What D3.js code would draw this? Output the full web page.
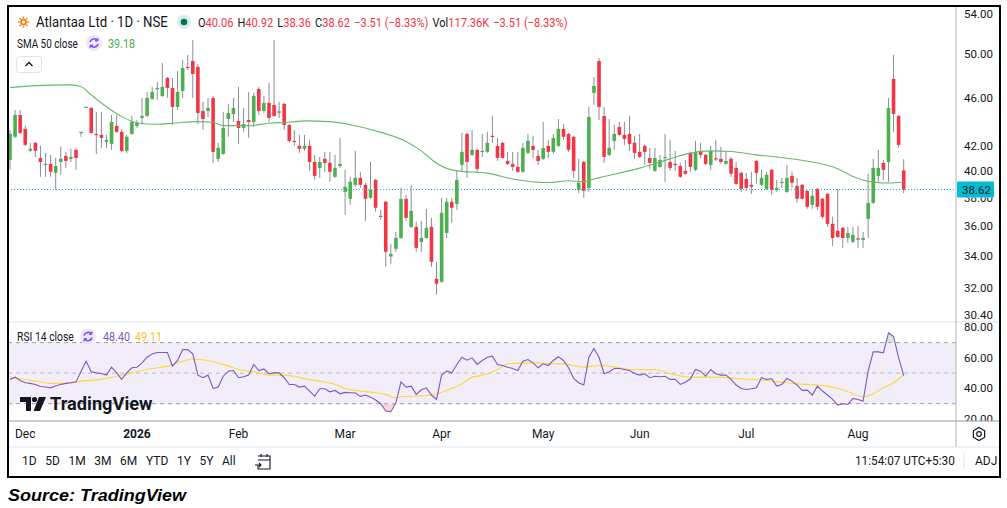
<!DOCTYPE html>
<html><head><meta charset="utf-8">
<script src="https://cdn.jsdelivr.net/npm/d3@7"></script>
<style>
body{margin:0;background:#fff;}
svg{display:block;font-family:Roboto,"Noto Sans",sans-serif;}
</style></head>
<body><svg id="c" width="1007" height="508"></svg>
<script>
// ---------- DATA ----------
const monthLabels = ["Dec","2026","Feb","Mar","Apr","May","Jun","Jul","Aug"];
const monthIdx    = [3, 25, 45, 66, 85, 105, 124, 145, 167];

const opens = [40.87,42.71,44.53,43.36,41.58,42.22,41.02,40.52,40.56,39.87,40.71,41.18,40.95,41.66,43.10,45.20,45.13,42.95,42.87,42.30,
42.14,43.61,43.12,41.58,42.95,43.61,44.28,44.45,45.92,46.84,46.18,47.79,46.89,45.22,46.62,48.81,49.36,48.81,44.87,44.87,
46.00,40.95,41.34,44.19,44.62,44.03,43.44,44.11,43.94,46.80,44.87,45.57,45.39,44.83,45.48,43.69,42.38,41.98,41.74,41.98,
40.71,40.25,40.95,40.64,39.57,40.40,38.45,37.94,38.97,39.49,38.97,38.01,39.34,36.70,37.73,33.98,34.49,35.21,37.94,35.96,
35.96,34.95,35.21,35.96,32.56,32.38,35.55,37.73,37.58,40.48,42.95,41.26,41.66,41.50,41.50,42.79,41.98,42.22,40.79,40.56,
40.33,39.95,41.42,41.98,41.18,40.95,41.98,41.50,41.98,43.36,42.95,42.71,38.59,40.71,38.74,46.45,49.36,44.45,41.26,42.38,
43.52,42.87,42.95,42.22,41.50,41.98,41.02,40.02,40.33,41.07,40.71,40.56,40.40,40.02,41.42,40.10,41.58,41.26,40.48,40.99,
40.95,40.56,40.95,40.25,39.87,39.41,38.97,40.79,38.97,38.67,40.10,38.59,39.12,38.45,39.64,38.89,38.97,38.52,37.51,38.67,
37.94,38.30,36.17,35.69,35.89,35.21,34.95,35.18,35.08,36.52,37.65,39.64,40.64,40.71,47.70,44.45,40.06];
const highs = [43.28,44.96,44.96,43.61,42.22,42.30,41.98,41.42,41.26,41.02,41.90,41.50,41.74,41.82,43.12,45.25,45.22,44.79,44.79,42.87,
44.53,44.53,43.36,42.87,44.45,44.11,46.00,46.53,46.98,47.43,49.18,47.88,47.79,48.44,49.46,49.94,51.39,49.08,45.65,46.00,
46.18,42.22,44.79,45.48,46.00,46.98,45.13,46.53,46.45,46.98,46.18,47.34,51.39,45.65,45.57,43.77,43.28,42.87,42.87,42.46,
41.26,41.10,41.50,41.50,41.26,42.62,40.10,39.57,41.58,39.95,39.12,40.71,39.41,37.15,37.80,34.82,35.62,38.74,38.23,38.97,
36.31,36.38,37.22,36.59,33.64,38.01,38.01,38.01,40.02,43.03,43.03,43.28,41.74,42.95,43.12,44.45,42.62,42.30,41.50,41.50,
41.50,42.22,42.95,42.79,41.66,43.94,42.46,42.95,44.19,43.77,43.03,42.79,40.95,40.79,45.22,47.88,49.65,45.22,44.19,43.69,
43.94,43.94,44.45,42.79,42.95,42.06,41.82,41.82,41.26,42.95,42.46,41.58,40.64,40.87,41.50,42.38,42.22,41.34,41.98,42.46,
41.90,41.50,41.10,40.71,39.95,39.87,39.95,40.87,40.10,39.95,40.17,39.34,39.49,40.48,39.95,39.49,39.04,38.59,38.67,38.74,
38.01,38.37,36.66,38.67,35.96,35.96,35.96,36.03,35.62,39.80,40.95,41.66,40.87,46.00,49.94,44.53,40.92];
const lows = [40.10,42.62,42.95,41.98,41.50,41.10,39.57,39.57,39.57,38.59,39.72,40.25,40.71,40.10,42.71,45.15,42.95,41.34,41.82,41.82,
41.66,43.03,41.50,41.42,42.87,43.44,43.69,44.36,45.83,45.83,46.09,46.00,43.69,44.96,46.00,48.53,46.00,43.77,43.28,44.36,
40.64,40.71,41.26,42.71,43.94,42.14,43.12,42.62,43.52,44.53,44.70,43.94,44.36,44.28,43.28,42.22,41.98,41.42,41.58,40.02,
39.34,39.49,39.95,39.19,39.49,40.25,36.80,37.51,38.82,38.74,36.38,37.94,37.02,36.45,33.32,33.51,34.29,35.15,36.38,35.89,
34.29,34.29,35.15,33.32,31.59,32.32,35.21,36.24,37.15,39.95,39.49,41.18,39.87,41.10,41.42,42.22,40.79,40.95,40.48,40.02,
39.87,39.87,41.34,41.02,40.48,40.87,41.02,41.34,41.90,42.46,41.50,39.49,38.37,38.01,38.45,45.39,44.11,40.64,41.18,41.66,
42.79,42.06,41.58,40.95,41.02,40.48,40.17,39.95,40.25,39.19,40.02,40.02,39.49,39.72,39.95,40.02,41.02,40.48,40.10,40.79,
40.56,40.48,39.57,38.97,38.45,38.52,38.30,39.04,38.89,38.59,38.23,38.45,38.74,38.37,38.74,37.65,37.87,37.22,37.22,37.15,
36.52,35.96,34.68,35.21,34.55,34.88,34.88,34.55,34.55,35.21,37.58,39.19,39.34,39.19,43.12,41.82,38.36];
const closes = [42.95,44.53,43.03,42.06,41.74,41.58,40.71,40.56,39.95,40.40,40.95,40.79,41.10,41.02,43.12,45.22,43.03,42.87,42.62,42.46,
43.94,43.12,41.58,42.71,43.94,43.86,44.45,46.00,46.53,46.89,46.98,46.89,45.22,46.53,48.71,48.71,48.16,44.70,44.19,45.13,
41.50,41.82,43.44,44.70,45.13,43.44,43.77,43.94,46.18,44.87,45.57,44.28,44.45,44.79,43.69,42.38,42.30,41.74,41.98,40.71,
39.64,40.71,40.64,39.95,40.25,40.56,38.82,39.19,39.49,38.97,37.94,38.59,37.30,36.73,34.29,34.16,35.21,37.94,36.59,37.08,
34.55,35.21,35.89,33.64,32.26,36.94,37.73,37.30,39.34,41.50,40.71,41.66,40.17,41.58,42.22,42.71,41.02,41.02,40.56,40.33,
39.95,41.82,42.38,41.66,40.79,41.82,41.50,42.62,43.36,42.71,41.66,40.02,39.12,38.52,44.36,47.07,45.22,41.10,41.82,42.95,
42.87,42.54,42.14,41.42,41.10,41.50,40.64,41.02,40.87,41.10,40.25,40.48,39.57,39.80,40.33,41.50,41.26,40.56,41.58,40.95,
40.71,40.79,39.80,39.04,38.67,38.74,38.82,39.87,39.49,39.72,38.59,38.74,39.19,39.49,39.12,37.94,37.94,37.37,38.16,37.37,
36.66,36.17,35.21,35.28,35.21,35.55,35.42,35.15,35.21,37.65,40.25,40.25,40.10,45.13,44.62,42.06,38.62];

const smaIdx  = [0,5,12,14,16,19,22,25,29,32,37,40,42,47,51,55,58,63,68,72,78,81,84,88,94,99,106,110,113,115,117,124,130,134,138,142,147,153,163,166,170,173,176];
const smaVals = [46.92,47.10,47.16,47.00,46.27,45.24,44.39,43.88,43.75,43.83,43.97,43.92,43.63,43.63,43.83,43.92,44.03,43.97,43.63,43.20,42.33,41.58,40.61,40.02,39.85,39.41,39.14,39.27,39.21,39.41,39.59,40.23,40.95,41.40,41.58,41.53,41.26,41.00,40.18,39.60,39.17,39.10,39.18];

const rsiVals = [45.9,47.4,45.2,43.7,43.3,42.6,41.3,40.9,40.4,41.7,42.6,43.3,43.7,44.3,51.3,57.8,50.9,50.2,49.8,48.7,
53.9,50.2,45.9,50.2,53.5,53.9,56.7,60.4,62.6,63.5,63.5,63.5,54.6,58.3,65.4,65.4,62.6,48.7,47.0,48.7,
40.0,40.9,48.0,51.3,51.7,47.0,47.6,48.7,55.7,51.7,52.8,49.6,50.2,50.2,47.0,42.6,42.6,40.9,41.5,38.3,
35.0,39.8,39.8,37.8,38.7,36.5,37.4,37.2,37.0,34.8,35.7,34.3,32.4,30.0,25.2,24.8,30.7,44.3,40.9,41.5,
36.1,39.1,40.4,35.7,32.8,48.7,51.3,50.2,55.7,60.4,58.5,60.0,55.7,58.3,60.4,61.1,55.7,55.0,53.9,53.0,
51.7,57.8,58.9,56.7,53.5,56.1,55.0,58.3,60.7,58.3,53.5,46.5,43.7,42.2,60.4,66.1,60.4,49.6,50.9,53.0,
53.0,52.4,51.7,49.8,48.7,49.6,47.0,48.0,47.6,48.0,45.9,45.9,42.6,44.1,46.3,52.4,51.3,48.0,52.4,49.6,
48.7,48.7,45.9,42.2,40.0,39.3,39.8,40.4,47.0,45.9,46.3,41.5,42.6,46.5,44.8,42.2,38.7,38.9,35.7,41.5,
38.3,35.7,32.8,29.1,30.0,29.6,33.5,32.8,31.7,51.3,63.9,63.9,63.3,76.3,74.1,60.0,48.4];

const rsiMaIdx  = [0,2,5,8,11,14,18,21,24,28,31,33,36,39,43,45,48,51,53,56,58,61,64,66,69,72,74,76,77,80,83,86,89,91,93,96,98,103,106,109,113,116,119,122,127,130,134,139,144,149,152,155,160,163,165,168,170,172,174,176];
const rsiMaVals = [47.4,46.3,44.8,43.3,43.3,44.8,45.9,48.0,50.2,53.0,54.6,56.7,59.3,58.3,54.6,52.4,50.9,48.7,48.7,48.0,46.3,44.8,42.6,40.0,38.3,37.2,36.1,33.9,34.6,35.0,35.7,38.7,43.0,47.4,48.5,52.4,56.1,56.7,56.3,56.1,53.9,55.0,54.1,52.4,52.4,49.6,47.4,47.4,46.3,45.2,44.1,43.0,42.0,40.0,37.8,34.6,36.5,40.4,43.7,49.11];

const priceTicks = [54, 50, 46, 42, 40, 38, 36, 34, 32, 30.4];
const rsiTicks   = [80, 60, 40, 20];
const rangeButtons = ["1D","5D","1M","3M","6M","YTD","1Y","5Y","All"];
const header = {name:"Atlantaa Ltd · 1D · NSE", O:"40.06", H:"40.92", L:"38.36", C:"38.62", chg:"−3.51 (−8.33%)", vol:"117.36K"};
const smaLast = "39.18", rsiLast = "48.40", rsiMaLast = "49.11", lastPrice = 38.62;

// ---------- LAYOUT ----------
const svg = d3.select("#c");
const frame = {l:8, t:6, r:1000, b:477};
const axisX = 956;
const pTop = 7, pBot = 322, rTop = 322, rBot = 421, tBot = 447;
const UP = "#4caf50", DN = "#f23645", TXT = "#131722";

function fit(sel, w){
  const bb = sel.node().getBBox();
  const k = w / bb.width, x0 = bb.x;
  sel.attr("transform", `translate(${x0},0) scale(${k},1) translate(${-x0},0)`);
  return sel;
}

const x  = d3.scaleLinear().domain([0, closes.length - 1]).range([10, 903.7]);
const y  = d3.scaleLog().domain([32, 54]).range([288, 14]);
const yr = d3.scaleLinear().domain([20, 80]).range([419, 327.3]);

const defs = svg.append("defs");
defs.append("clipPath").attr("id","cp").append("rect").attr("x",frame.l+1).attr("y",pTop).attr("width",axisX-frame.l-1).attr("height",pBot-pTop);
defs.append("clipPath").attr("id","cr").append("rect").attr("x",frame.l+1).attr("y",rTop).attr("width",axisX-frame.l-1).attr("height",rBot-rTop);
defs.append("clipPath").attr("id","cra").append("rect").attr("x",axisX).attr("y",rTop).attr("width",frame.r-axisX).attr("height",rBot-rTop);
defs.append("clipPath").attr("id","cob").append("rect").attr("x",0).attr("y",0).attr("width",1007).attr("height",yr(70));
defs.append("clipPath").attr("id","cos").append("rect").attr("x",0).attr("y",yr(30)).attr("width",1007).attr("height",200);
defs.append("clipPath").attr("id","c38").append("rect").attr("x",axisX).attr("y",y(lastPrice)+8).attr("width",50).attr("height",30);

// ---------- PRICE PANEL ----------
const gp = svg.append("g").attr("clip-path","url(#cp)");
const idx = d3.range(closes.length);
gp.selectAll("line.wick").data(idx).join("line").attr("class","wick")
  .attr("x1",i=>x(i)).attr("x2",i=>x(i))
  .attr("y1",i=>y(highs[i])).attr("y2",i=>y(lows[i]))
  .attr("stroke","#8a8d96").attr("stroke-width",1);
gp.selectAll("rect.body").data(idx).join("rect").attr("class","body")
  .attr("x",i=>x(i)-1.8).attr("width",3.6)
  .attr("y",i=>y(Math.max(opens[i],closes[i])))
  .attr("height",i=>Math.max(1.2, Math.abs(y(opens[i])-y(closes[i]))))
  .attr("fill",i=>closes[i]>=opens[i]?UP:DN);

const smaLine = d3.line().x(d=>x(d[0])).y(d=>y(d[1])).curve(d3.curveMonotoneX);
gp.append("path").datum(smaIdx.map((d,k)=>[d,smaVals[k]])).attr("d",smaLine)
  .attr("fill","none").attr("stroke","#66bb6a").attr("stroke-width",1.1);

gp.append("line").attr("x1",frame.l).attr("x2",axisX).attr("y1",y(lastPrice)).attr("y2",y(lastPrice))
  .attr("stroke","#00bcd4").attr("stroke-width",1).attr("stroke-dasharray","1,2");

// price axis labels
svg.append("g").selectAll("text").data(priceTicks).join("text")
  .attr("x",964).attr("y",d=>y(d)).attr("dy","0.35em")
  .attr("clip-path",d=>d===38?"url(#c38)":null)
  .attr("font-size",11.5).attr("fill",TXT).text(d=>d.toFixed(2));
svg.append("rect").attr("x",axisX+1).attr("y",y(lastPrice)-8).attr("width",37).attr("height",16).attr("fill","#00bcd4").attr("rx",1);
svg.append("text").attr("x",962).attr("y",y(lastPrice)).attr("dy","0.35em").attr("font-size",11.5).attr("fill",TXT).text(lastPrice.toFixed(2));

// ---------- RSI PANEL ----------
const gr = svg.append("g").attr("clip-path","url(#cr)");
gr.append("rect").attr("x",frame.l).attr("width",axisX-frame.l).attr("y",yr(70)).attr("height",yr(30)-yr(70))
  .attr("fill","#7e57c2").attr("fill-opacity",0.1);
[70,50,30].forEach(v=>{
  gr.append("line").attr("x1",frame.l).attr("x2",axisX).attr("y1",yr(v)).attr("y2",yr(v))
    .attr("stroke","#9598a1").attr("stroke-width",1).attr("stroke-dasharray","4,4").attr("stroke-opacity",v===50?0.6:0.9);
});
const rsiPts = rsiVals.map((v,i)=>[i,v]);
gr.append("path").datum(rsiPts).attr("clip-path","url(#cob)")
  .attr("d",d3.area().x(d=>x(d[0])).y0(yr(70)).y1(d=>yr(d[1])))
  .attr("fill","#4caf50").attr("fill-opacity",0.25);
gr.append("path").datum(rsiPts).attr("clip-path","url(#cos)")
  .attr("d",d3.area().x(d=>x(d[0])).y0(yr(30)).y1(d=>yr(d[1])))
  .attr("fill","#f23645").attr("fill-opacity",0.2);
gr.append("path").datum(rsiMaIdx.map((d,k)=>[d,rsiMaVals[k]]))
  .attr("d",d3.line().x(d=>x(d[0])).y(d=>yr(d[1])).curve(d3.curveMonotoneX))
  .attr("fill","none").attr("stroke","#fdd835").attr("stroke-width",1.1);
gr.append("path").datum(rsiPts)
  .attr("d",d3.line().x(d=>x(d[0])).y(d=>yr(d[1])))
  .attr("fill","none").attr("stroke","#7e57c2").attr("stroke-width",1.1);

svg.append("g").attr("clip-path","url(#cra)").selectAll("text").data(rsiTicks).join("text")
  .attr("x",964).attr("y",d=>yr(d)).attr("dy","0.35em").attr("font-size",11.5).attr("fill",TXT).text(d=>d.toFixed(2));

// TradingView watermark
const wm = svg.append("g");
wm.append("path").attr("d","M20,397 h11 v14 h-5 v-9 h-6 z").attr("fill",TXT);
wm.append("circle").attr("cx",34.5).attr("cy",399.5).attr("r",2.6).attr("fill",TXT);
wm.append("path").attr("d","M39,397 h7 l-6,14 h-6.5 z").attr("fill",TXT);
fit(wm.append("text").attr("x",50).attr("y",404).attr("dy","0.35em").attr("font-size",18.5).attr("font-weight",700)
  .attr("fill",TXT).text("TradingView"), 103);

// ---------- SEPARATORS ----------
svg.append("line").attr("x1",frame.l).attr("x2",frame.r).attr("y1",pBot).attr("y2",pBot).attr("stroke","#e0e3eb");
svg.append("line").attr("x1",frame.l).attr("x2",frame.r).attr("y1",rBot).attr("y2",rBot).attr("stroke","#9598a1");
svg.append("line").attr("x1",frame.l).attr("x2",frame.r).attr("y1",tBot).attr("y2",tBot).attr("stroke","#e0e3eb");
svg.append("line").attr("x1",axisX).attr("x2",axisX).attr("y1",frame.t).attr("y2",tBot).attr("stroke","#b2b5be");

// ---------- TIME AXIS ----------
svg.append("g").selectAll("text").data(monthLabels).join("text")
  .attr("x",(d,k)=>x(monthIdx[k])).attr("y",434).attr("dy","0.35em").attr("text-anchor","middle")
  .attr("font-size",12).attr("fill",TXT).attr("font-weight",d=>d==="2026"?700:400).text(d=>d);
const gear = svg.append("g").attr("transform","translate(979,434)");
gear.append("path").attr("d",d3.range(6).map(k=>{const a=Math.PI/3*k+Math.PI/6;return (k?"L":"M")+(6.5*Math.cos(a)).toFixed(2)+","+(6.5*Math.sin(a)).toFixed(2);}).join("")+"Z")
  .attr("fill","none").attr("stroke",TXT).attr("stroke-width",1.2);
gear.append("circle").attr("r",2.3).attr("fill","none").attr("stroke",TXT).attr("stroke-width",1.2);

// ---------- BOTTOM TOOLBAR ----------
const tb = svg.append("g");
let bx = 22;
rangeButtons.forEach(b=>{
  const t = tb.append("text").attr("x",bx).attr("y",461).attr("dy","0.35em").attr("font-size",12).attr("fill",TXT).text(b);
  bx += t.node().getComputedTextLength() + 8.6;
});
const cal = tb.append("g").attr("transform","translate(255,453)");
cal.append("path").attr("d","M3,3 h12 v13 h-12 v-4 M3,7 h12 M6,1 v3 M12,1 v3").attr("fill","none").attr("stroke",TXT).attr("stroke-width",1.1);
cal.append("path").attr("d","M0,12 h6 M4,10 l2,2 l-2,2").attr("fill","none").attr("stroke",TXT).attr("stroke-width",1.1);
fit(tb.append("text").attr("x",855).attr("y",461).attr("dy","0.35em").attr("font-size",12.5).attr("fill",TXT).text("11:54:07 UTC+5:30"), 100);
tb.append("line").attr("x1",964).attr("x2",964).attr("y1",453).attr("y2",469).attr("stroke","#e0e3eb");
tb.append("text").attr("x",975).attr("y",461).attr("dy","0.35em").attr("font-size",12).attr("fill",TXT).text("ADJ");

// ---------- HEADER ----------
const hd = svg.append("g");
const sun = hd.append("g").attr("transform","translate(23.5,22)");
sun.append("circle").attr("r",2.6).attr("fill","none").attr("stroke","#f57c00").attr("stroke-width",1.6);
d3.range(8).forEach(k=>{const a=Math.PI/4*k;sun.append("line").attr("x1",4*Math.cos(a)).attr("y1",4*Math.sin(a)).attr("x2",5.6*Math.cos(a)).attr("y2",5.6*Math.sin(a)).attr("stroke","#f57c00").attr("stroke-width",1.4);});
fit(hd.append("text").attr("x",36).attr("y",22).attr("dy","0.35em").attr("font-size",14).attr("fill",TXT).text(header.name), 132);
hd.append("circle").attr("cx",184).attr("cy",22).attr("r",7).attr("fill","#d7efe9");
hd.append("circle").attr("cx",184).attr("cy",22).attr("r",3.3).attr("fill","#0b6e5c");
const ohlc = hd.append("text").attr("x",198).attr("y",22).attr("dy","0.35em").attr("font-size",13.5);
[["O",header.O],["H",header.H],["L",header.L],["C",header.C]].forEach(([k,v],n)=>{
  ohlc.append("tspan").attr("fill",TXT).attr("dx",n?5:0).text(k);
  ohlc.append("tspan").attr("fill",DN).text(v);
});
ohlc.append("tspan").attr("fill",DN).attr("dx",5).text(header.chg);
ohlc.append("tspan").attr("fill",TXT).attr("dx",5).text("Vol");
ohlc.append("tspan").attr("fill",DN).text(header.vol);
ohlc.append("tspan").attr("fill",DN).attr("dx",5).text(header.chg);
fit(ohlc, 370);

function indIcon(cx,cy){
  const g = svg.append("g").attr("transform",`translate(${cx},${cy})`);
  g.append("circle").attr("r",8).attr("fill","#ede7f6");
  g.append("path").attr("d","M-4,-1 A4.2,4.2 0 0 1 3.6,-2.2 M4,1 A4.2,4.2 0 0 1 -3.6,2.2").attr("fill","none").attr("stroke","#7c4dff").attr("stroke-width",1.5);
  g.append("path").attr("d","M3.6,-2.2 l0.4,-2.6 M3.6,-2.2 l-2.6,-0.2 M-3.6,2.2 l-0.4,2.6 M-3.6,2.2 l2.6,0.2").attr("fill","none").attr("stroke","#7c4dff").attr("stroke-width",1.3);
}
fit(svg.append("text").attr("x",17).attr("y",43).attr("dy","0.35em").attr("font-size",13).attr("fill",TXT).text("SMA 50 close"), 61);
indIcon(94,43);
fit(svg.append("text").attr("x",108).attr("y",43).attr("dy","0.35em").attr("font-size",13).attr("fill",UP).text(smaLast), 27);
svg.append("rect").attr("x",16.5).attr("y",56.5).attr("width",25).attr("height",16).attr("rx",3).attr("fill","#fff").attr("stroke","#e0e3eb");
svg.append("path").attr("d","M25.5,66 l3.5,-3.5 l3.5,3.5").attr("fill","none").attr("stroke",TXT).attr("stroke-width",1.4);

fit(svg.append("text").attr("x",17).attr("y",336.5).attr("dy","0.35em").attr("font-size",13).attr("fill",TXT).text("RSI 14 close"), 57);
indIcon(88,336.5);
fit(svg.append("text").attr("x",103).attr("y",336.5).attr("dy","0.35em").attr("font-size",13).attr("fill","#7e57c2").text(rsiLast), 27);
fit(svg.append("text").attr("x",135).attr("y",336.5).attr("dy","0.35em").attr("font-size",13).attr("fill","#fbc02d").text(rsiMaLast), 27);

// ---------- FRAME & SOURCE ----------
svg.append("rect").attr("x",frame.l).attr("y",frame.t).attr("width",frame.r-frame.l).attr("height",frame.b-frame.t)
  .attr("fill","none").attr("stroke","#000").attr("stroke-width",2);
fit(svg.append("text").attr("x",8).attr("y",495).attr("dy","0.35em").attr("font-family","'Liberation Sans',Arial,sans-serif")
  .attr("font-size",17).attr("font-weight",700).attr("font-style","italic").attr("fill","#000").text("Source: TradingView"), 180);
</script>
</body></html>
